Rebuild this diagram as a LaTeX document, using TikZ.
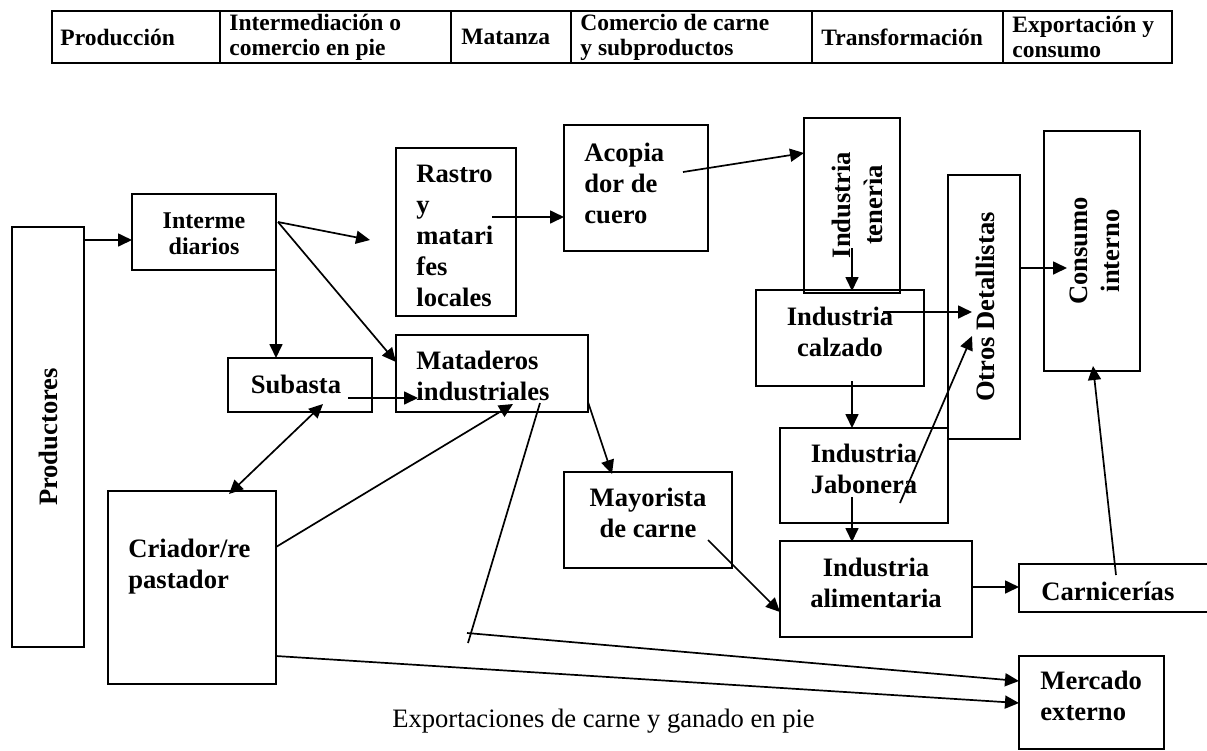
\documentclass[tikz,border=0pt]{standalone}
\usepackage{fontspec}
\setmainfont{Liberation Serif}
\usetikzlibrary{arrows.meta,fit}
\begin{document}
\begin{tikzpicture}[x=0.5pt,y=-0.5pt,
  box/.style={draw, line width=1.15pt, inner sep=0pt},
  hcell/.style={draw, line width=1.3pt, inner sep=0pt},
  htxt/.style={inner sep=0pt, align=left, anchor=west, font=\bfseries\fontsize{11.75}{12.5}\selectfont},
  txt/.style={inner sep=0pt, font=\bfseries\fontsize{13.3}{15.5}\selectfont},
  ltxt/.style={txt, align=left, anchor=base west},
  ctxt/.style={txt, align=center, anchor=base},
  rtxt/.style={inner sep=0pt, rotate=90, align=center, font=\bfseries\fontsize{13.3}{16}\selectfont},
  arr/.style={line width=0.85pt, -{Triangle[length=7pt,width=6.5pt]}},
  darr/.style={line width=0.85pt, {Triangle[length=7pt,width=6.5pt]}-{Triangle[length=7pt,width=6.5pt]}},
  ln/.style={line width=0.85pt}
]
\useasboundingbox (0,0) rectangle (1207,751);
\clip (0,0) rectangle (1207,751);

% header table
\node[hcell, fit={(52,11) (220,63)}] (h1) {};
\node[hcell, fit={(220,11) (451,63)}] (h2) {};
\node[hcell, fit={(451,11) (571,63)}] (h3) {};
\node[hcell, fit={(571,11) (812,63)}] (h4) {};
\node[hcell, fit={(812,11) (1003,63)}] (h5) {};
\node[hcell, fit={(1003,11) (1172,63)}] (h6) {};
\node[htxt] (ht1) at (60,37) {Producción};
\node[htxt] (ht2) at (229,37) {Intermediación o\\comercio en pie};
\node[htxt] (ht3) at (461,37) {Matanza};
\node[htxt] (ht4) at (580,37) {Comercio de carne\\y subproductos};
\node[htxt] (ht5) at (821,37) {Transformación};
\node[htxt] (ht6) at (1012,37) {Exportación y\\consumo};

% boxes
\node[box, fit={(12,227) (84,647)}] (prod) {};
\node[box, fit={(132,194) (276,270)}] (inter) {};
\node[box, fit={(396,148) (516,316)}] (rastro) {};
\node[box, fit={(564,125) (708,251)}] (acop) {};
\node[box, fit={(804,118) (900,293)}] (ten) {};
\node[box, fit={(756,290) (924,386)}] (calz) {};
\node[box, fit={(948,175) (1020,439)}] (otros) {};
\node[box, fit={(1044,131) (1140,371)}] (cons) {};
\node[box, fit={(228,358) (372,412)}] (sub) {};
\node[box, fit={(396,335) (588,412)}] (matad) {};
\node[box, fit={(564,472) (732,568)}] (mayor) {};
\node[box, fit={(108,491) (276,684)}] (criador) {};
\node[box, fit={(780,428) (948,523)}] (jabon) {};
\node[box, fit={(780,541) (972,637)}] (alim) {};
\node[box, fit={(1019,564) (1225,612)}] (carn) {};
\node[box, fit={(1019,656) (1164,749)}] (merc) {};

% texts (base anchor = baseline of last line)
\node[rtxt] (tprod) at (48,437) {Productores};
\node[txt, align=center, anchor=base, font=\bfseries\fontsize{12}{13}\selectfont] (tinter) at (204,254) {Interme\\diarios};
\node[ltxt] (trastro) at (416,306) {Rastro\\y\\matari\\fes\\locales};
\node[ltxt] (tacop) at (584,223) {Acopia\\dor de\\cuero};
\node[rtxt] (tten) at (857,205) {Industria\\tenerìa};
\node[ctxt] (tcalz) at (840,356) {Industria\\calzado};
\node[rtxt] (totros) at (985,307) {Otros Detallistas};
\node[rtxt] (tcons) at (1095,251) {Consumo\\interno};
\node[ctxt] (tsub) at (296,393) {Subasta};
\node[ltxt] (tmatad) at (416,400) {Mataderos\\industriales};
\node[ctxt] (tmayor) at (648,537) {Mayorista\\de carne};
\node[ltxt] (tcriador) at (128,588) {Criador/re\\pastador};
\node[ctxt] (tjabon) at (864,493) {Industria\\Jabonera};
\node[ctxt] (talim) at (876,607) {Industria\\alimentaria};
\node[ltxt] (tcarn) at (1041,600) {Carnicerías};
\node[ltxt] (tmerc) at (1040,720) {Mercado\\externo};
\node[inner sep=0pt, anchor=base, font=\fontsize{13.3}{15.5}\selectfont] (cap) at (603.5,727) {Exportaciones de carne y ganado en pie};

% connector end points
\coordinate (a1s) at (84,240);   \coordinate (a1e) at (132,240);
\coordinate (a2s) at (276,270);  \coordinate (a2e) at (276,358);
\coordinate (a3s) at (278,222);  \coordinate (a3e) at (370,240);
\coordinate (a4e) at (396,362);
\coordinate (a5s) at (348,398);  \coordinate (a5e) at (418,398);
\coordinate (a6s) at (229,494);  \coordinate (a6e) at (323,404);
\coordinate (a7s) at (276,547);  \coordinate (a7e) at (513,404);
\coordinate (a8s) at (492,217);  \coordinate (a8e) at (564,217);
\coordinate (a9s) at (683,172);  \coordinate (a9e) at (804,153);
\coordinate (a10s) at (540,403); \coordinate (a10e) at (468,643);
\coordinate (a11s) at (467,633); \coordinate (a11e) at (1019,681);
\coordinate (a12s) at (276,656); \coordinate (a12e) at (1019,703);
\coordinate (a13s) at (588,402); \coordinate (a13e) at (612,474);
\coordinate (a14s) at (708,540); \coordinate (a14e) at (780,612);
\coordinate (a15s) at (852,248); \coordinate (a15e) at (852,291);
\coordinate (a16s) at (883,312); \coordinate (a16e) at (972,312);
\coordinate (a17s) at (852,381); \coordinate (a17e) at (852,428);
\coordinate (a18s) at (900,503); \coordinate (a18e) at (972,336);
\coordinate (a19s) at (852,497); \coordinate (a19e) at (852,542);
\coordinate (a20s) at (972,587); \coordinate (a20e) at (1019,587);
\coordinate (a21s) at (1116,575); \coordinate (a21e) at (1093,366);
\coordinate (a22s) at (1020,268); \coordinate (a22e) at (1067,268);

% connectors
\draw[arr] (a1s) -- (a1e);
\draw[arr] (a2s) -- (a2e);
\draw[arr] (a3s) -- (a3e);
\draw[arr] (a3s) -- (a4e);
\draw[arr] (a5s) -- (a5e);
\draw[darr] (a6s) -- (a6e);
\draw[arr] (a7s) -- (a7e);
\draw[arr] (a8s) -- (a8e);
\draw[arr] (a9s) -- (a9e);
\draw[ln] (a10s) -- (a10e);
\draw[arr] (a11s) -- (a11e);
\draw[arr] (a12s) -- (a12e);
\draw[arr] (a13s) -- (a13e);
\draw[arr] (a14s) -- (a14e);
\draw[arr] (a15s) -- (a15e);
\draw[arr] (a16s) -- (a16e);
\draw[arr] (a17s) -- (a17e);
\draw[arr] (a18s) -- (a18e);
\draw[arr] (a19s) -- (a19e);
\draw[arr] (a20s) -- (a20e);
\draw[arr] (a21s) -- (a21e);
\draw[arr] (a22s) -- (a22e);
\end{tikzpicture}
\end{document}
